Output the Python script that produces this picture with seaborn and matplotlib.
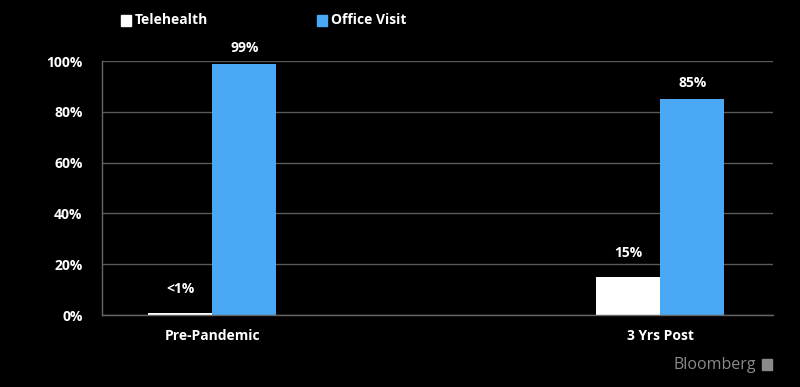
import matplotlib
matplotlib.use("Agg")
from matplotlib import pyplot as plt
from matplotlib.patches import Rectangle
import pandas as pd
import seaborn as sns

periods = ["Pre-Pandemic", "3 Yrs Post"]
telehealth = [0.8, 15]
office_visit = [99, 85]
tele_labels = ["<1%", "15%"]
office_labels = ["99%", "85%"]

df = pd.DataFrame({
    "period": periods * 2,
    "share": telehealth + office_visit,
    "kind": ["Telehealth"] * 2 + ["Office Visit"] * 2,
})

sns.set_style("dark")
plt.rcParams["font.family"] = ["Open Sans", "DejaVu Sans"]

fig = plt.figure(figsize=(8, 3.87), dpi=100, facecolor="black")
ax = fig.add_axes([0.1275, 0.186, 0.8388, 0.656])
ax.set_facecolor("black")

colors = {"Telehealth": "#ffffff", "Office Visit": "#4aa8f5"}
sns.barplot(data=df, x="period", y="share", hue="kind", palette=colors,
            width=0.286, gap=0, saturation=1, edgecolor="none", ax=ax, legend=False)

# value labels (telehealth labels sit a bit higher, like the original)
for bars, labels, pad in zip(ax.containers, [tele_labels, office_labels], [6.5, 3.5]):
    for bar, lab in zip(bars, labels):
        h = bar.get_height()
        ax.text(bar.get_x() + bar.get_width() / 2, h + pad, lab,
                ha="center", va="bottom", color="white", fontsize=10, fontweight="bold")

ax.set_xlim(-0.246, 1.252)
ax.set_ylim(0, 100)
ax.set_yticks([0, 20, 40, 60, 80, 100])
ax.set_yticklabels([f"{v}%" for v in [0, 20, 40, 60, 80, 100]],
                   color="white", fontsize=10, fontweight="bold")
ax.tick_params(axis="y", length=0, pad=14)
ax.set_xticks([0, 1])
ax.set_xticklabels(periods, color="white", fontsize=10, fontweight="bold")
ax.tick_params(axis="x", which="major", length=0, pad=10)
ax.set_xticks([-0.246, 0.502, 1.252], minor=True)
ax.tick_params(axis="x", which="minor", length=5, color="#666666", width=1)
ax.set_xlabel("")
ax.set_ylabel("")
ax.grid(axis="y", color="#5a5a5a", linewidth=1)
ax.grid(axis="x", visible=False)
for side in ["top", "right"]:
    ax.spines[side].set_visible(False)
for side in ["left", "bottom"]:
    ax.spines[side].set_visible(True)
    ax.spines[side].set_color("#666666")
    ax.spines[side].set_linewidth(1)

# legend
W, H = 800, 387
for xp, name in [(121, "Telehealth"), (317, "Office Visit")]:
    fig.patches.append(Rectangle((xp / W, 1 - 26 / H), 10 / W, 11 / H,
                                 transform=fig.transFigure, color=colors[name]))
    fig.text((xp + 14) / W, 1 - 20 / H, name, color="white", fontsize=10,
             fontweight="bold", ha="left", va="center")

fig.text(756 / W, 1 - 365 / H, "Bloomberg", color="#8a8a8a", fontsize=11.5,
         ha="right", va="center")
fig.patches.append(Rectangle((762 / W, 1 - 370 / H), 10 / W, 11 / H,
                             transform=fig.transFigure, color="#8a8a8a"))

fig.savefig("out.png", dpi=100, facecolor="black")
